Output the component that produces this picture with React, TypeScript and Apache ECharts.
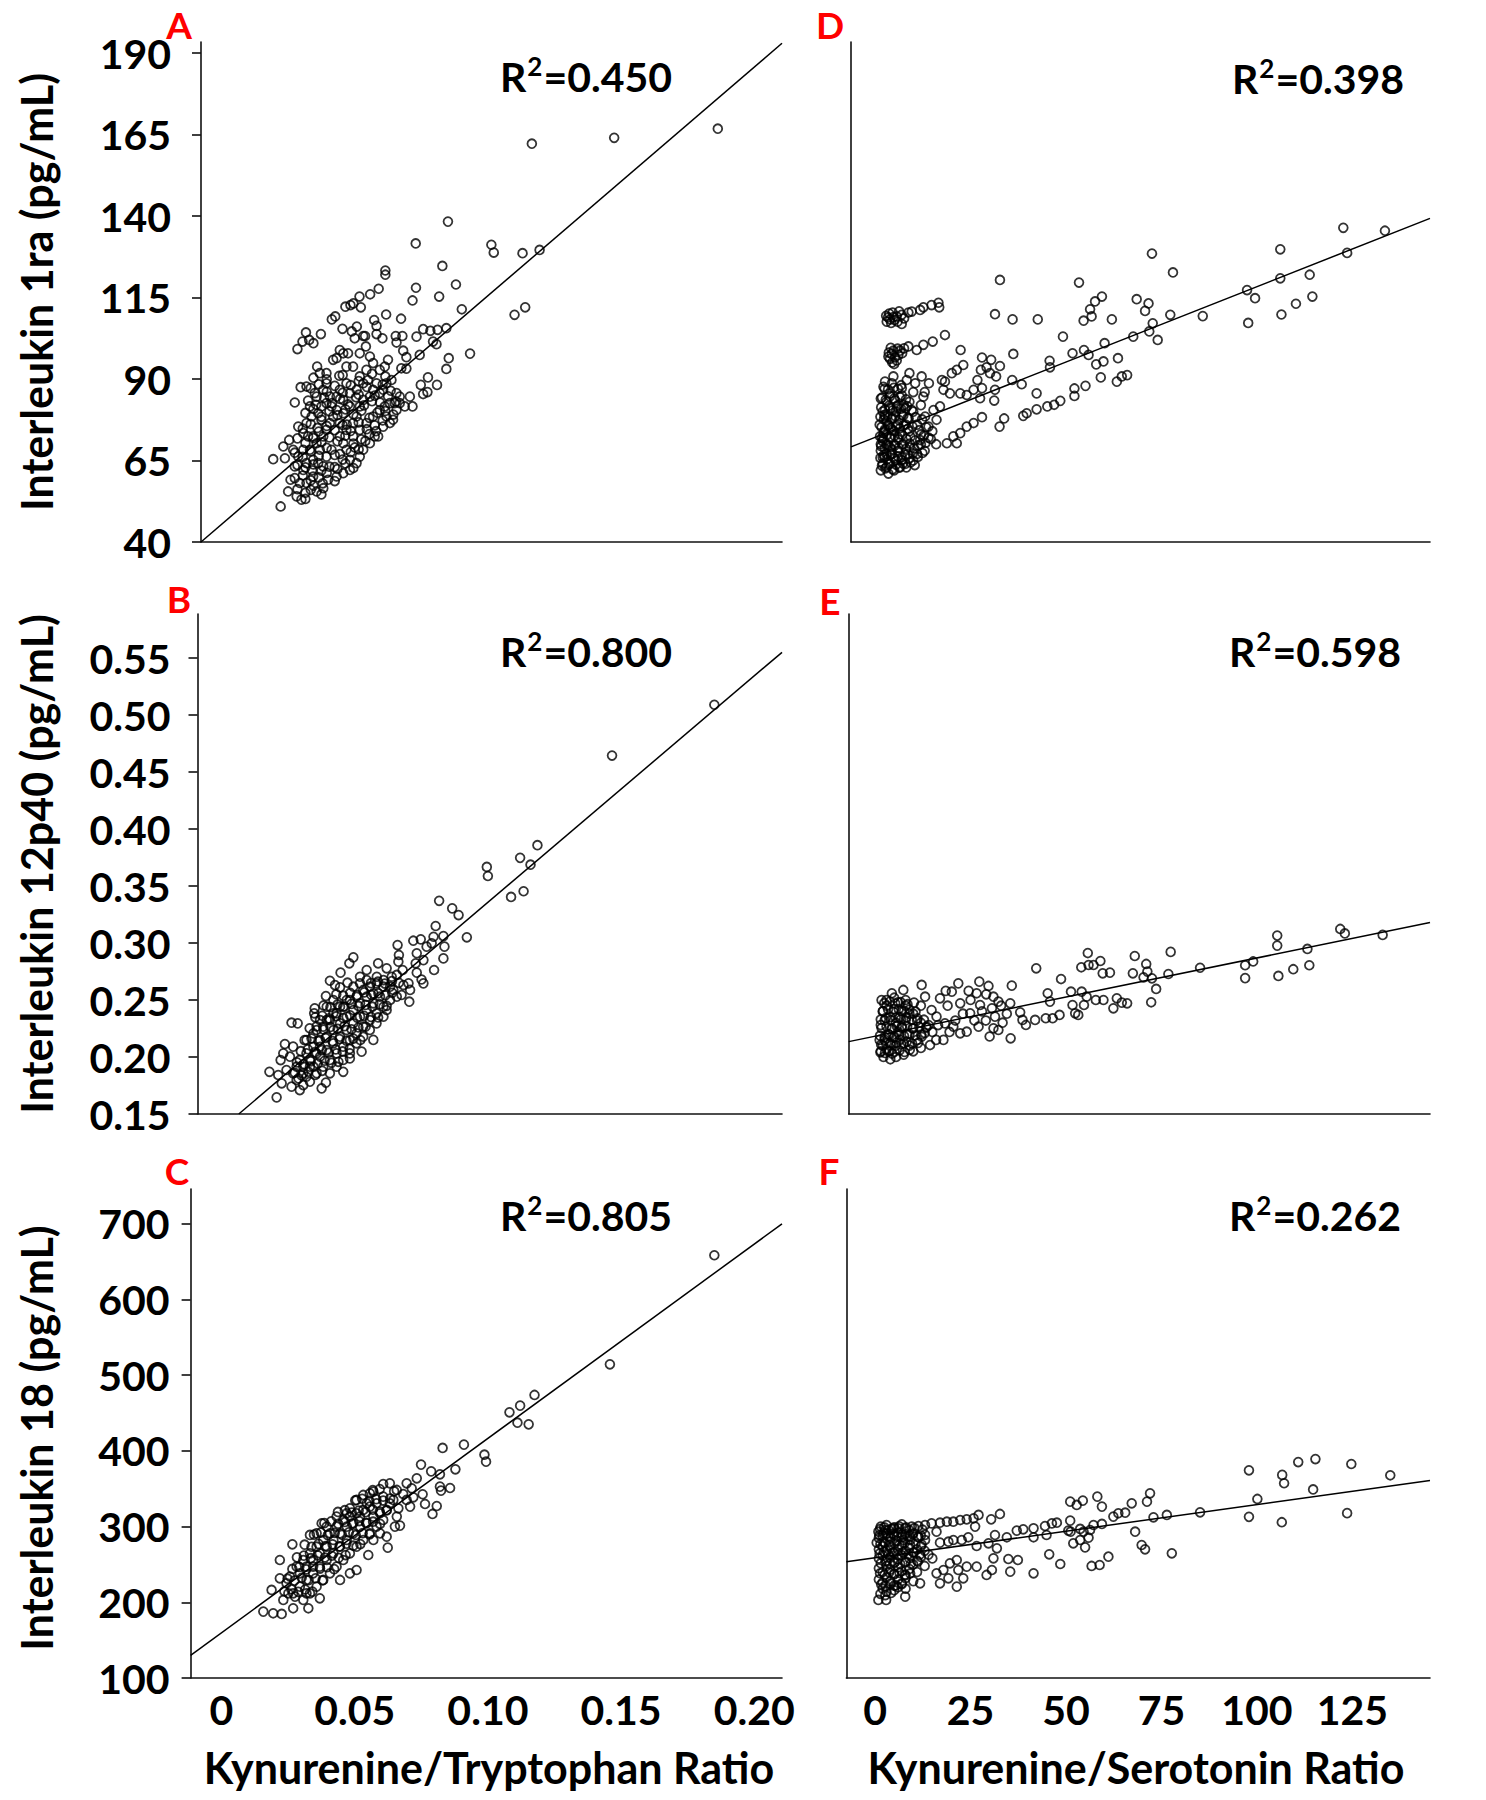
import React, { useEffect, useRef } from 'react';
import * as echarts from 'echarts';

const W = 1486;
const H = 1800;
const FONT = 'Lato, "Open Sans", sans-serif';

// ---------- tick values ----------
const ticksA = [40, 65, 90, 115, 140, 165, 190];
const ticksB = [0.15, 0.2, 0.25, 0.3, 0.35, 0.4, 0.45, 0.5, 0.55];
const ticksC = [100, 200, 300, 400, 500, 600, 700];
const ticksKT = [0, 0.05, 0.1, 0.15, 0.2];
const ticksKS = [0, 25, 50, 75, 100, 125];

// ---------- texts ----------
const r2Labels = ['0.450', '0.800', '0.805', '0.398', '0.598', '0.262'];
const panelLetters = ['A', 'B', 'C', 'D', 'E', 'F'];
const yTitles = ['Interleukin 1ra (pg/mL)', 'Interleukin 12p40 (pg/mL)', 'Interleukin 18 (pg/mL)'];
const xTitles = ['Kynurenine/Tryptophan Ratio', 'Kynurenine/Serotonin Ratio'];

// ---------- regression lines (endpoints) ----------
const fitA = [[-0.0077, 40], [0.2104, 193]];
const fitB = [[0.0065, 0.15], [0.2104, 0.555]];
const fitC = [[-0.0116, 130], [0.2104, 700]];
const fitD = [[-6.3, 69.2], [145.3, 139.3]];
const fitE = [[-6.9, 0.2135], [145.3, 0.318]];
const fitF = [[-7.5, 253.5], [145.3, 361]];

// ---------- scatter data ----------
const ptsA = [
  [0.113, 128.6], [0.1194, 129.6], [0.0829, 124.7], [0.0615, 123.3], [0.0615, 122.0], [0.088, 119.0], [0.073, 118.0],
  [0.059, 117.7], [0.0558, 116.0], [0.0518, 115.3], [0.0717, 114.1], [0.0817, 115.3], [0.0902, 111.4], [0.110, 109.7],
  [0.114, 112.0], [0.0618, 109.8], [0.0674, 108.5], [0.0465, 112.2], [0.0484, 112.7], [0.0495, 113.2], [0.0523, 112.0],
  [0.0414, 108.3], [0.0427, 109.2], [0.0454, 105.4], [0.0508, 106.1], [0.0573, 108.1], [0.0582, 106.3], [0.0317, 104.3],
  [0.0304, 101.5], [0.0285, 99.2], [0.0329, 102.0], [0.0345, 101.0], [0.0373, 103.8], [0.0757, 105.3], [0.0784, 104.8],
  [0.0811, 105.1], [0.0844, 105.6], [0.0732, 103.0], [0.0654, 103.2], [0.0679, 103.2], [0.0657, 101.2], [0.0604, 102.5],
  [0.0582, 103.8], [0.0807, 100.7], [0.0794, 101.5], [0.0744, 97.4], [0.0682, 98.7], [0.0694, 96.7], [0.0675, 93.3],
  [0.0694, 93.2], [0.0853, 96.4], [0.0844, 93.1], [0.0933, 97.8], [0.0775, 90.5], [0.0748, 88.2], [0.0809, 88.2],
  [0.0757, 85.4], [0.0773, 86.0], [0.0707, 84.6], [0.0717, 81.6], [0.0688, 81.6], [0.0657, 85.7], [0.0669, 84.6],
  [0.0625, 95.9], [0.0613, 93.8], [0.0594, 92.8], [0.0539, 103.2], [0.0542, 100.0], [0.0519, 97.9], [0.05, 102.5],
  [0.0489, 104.6], [0.0532, 103.2], [0.0444, 98.9], [0.0432, 96.4], [0.0419, 95.9], [0.0457, 97.9], [0.0475, 97.9],
  [0.0359, 93.8], [0.0369, 91.8], [0.0394, 91.8], [0.0442, 91.0], [0.0469, 93.8], [0.0494, 93.8], [0.0519, 90.8],
  [0.0544, 92.8], [0.0557, 96.9], [0.0569, 94.9], [0.0297, 87.5], [0.0319, 87.7], [0.0275, 82.8], [0.0288, 75.4],
  [0.0254, 71.3], [0.0232, 69.3], [0.0194, 65.4], [0.0238, 65.7], [0.0259, 59.1], [0.0250, 55.5], [0.0222, 50.9],
  [0.03, 53.0], [0.0282, 54.0], [0.0357, 55.5], [0.0382, 56.5], [0.04, 59.1], [0.0344, 72.4], [0.0325, 72.4],
  [0.0332, 81.6], [0.0338, 78.5], [0.035, 85.7], [0.0357, 84.6], [0.0382, 86.7], [0.0394, 88.7], [0.0407, 84.6],
  [0.0413, 81.6], [0.0432, 80.5], [0.0419, 78.5], [0.0444, 76.5], [0.0444, 72.4], [0.0457, 70.3], [0.0469, 68.3],
  [0.0482, 65.2], [0.0494, 76.5], [0.0507, 78.5], [0.0519, 81.6], [0.0532, 83.6], [0.0557, 84.6], [0.0569, 86.7],
  [0.0582, 88.7], [0.0594, 85.7], [0.0607, 86.7], [0.0619, 88.7], [0.0638, 89.7], [0.065, 82.6], [0.0657, 80.5],
  [0.0644, 77.5], [0.0632, 76.5], [0.0607, 75.4], [0.0588, 72.4], [0.0575, 72.4], [0.0557, 70.3], [0.0532, 68.3],
  [0.0519, 66.2], [0.0507, 64.2], [0.0482, 62.1], [0.0457, 61.1], [0.0432, 60.1], [0.0382, 63.2], [0.0363, 64.2],
  [0.0344, 65.2], [0.0319, 64.2], [0.0307, 62.1], [0.0294, 58.1], [0.0319, 58.1], [0.0344, 60.1], [0.0394, 66.2],
  [0.0413, 68.3], [0.0369, 68.3], [0.0357, 70.3], [0.0382, 72.4], [0.0394, 74.4], [0.0407, 76.5], [0.0375, 77.5],
  [0.0363, 79.5], [0.0469, 74.4], [0.0494, 72.4], [0.0519, 74.4], [0.0544, 76.5], [0.0569, 78.5], [0.0594, 80.5],
  [0.0613, 81.6], [0.0632, 82.6], [0.0669, 82.6], [0.0619, 78.5], [0.0457, 83.6], [0.0482, 85.7], [0.0507, 86.7],
  [0.0532, 88.7], [0.055, 89.7], [0.0482, 81.6], [0.0457, 79.5], [0.0432, 84.6], [0.0469, 88.7], [0.0444, 86.7],
  [0.0394, 82.6], [0.0375, 81.6], [0.0319, 76.5], [0.0307, 73.4], [0.0332, 68.3], [0.0288, 66.2], [0.0275, 63.2],
  [0.0269, 68.3], [0.0307, 68.3], [0.0425, 63], [0.0445, 67], [0.05, 69], [0.054, 71], [0.058, 74], [0.047, 76],
  [0.036, 75], [0.034, 62], [0.038, 58], [0.0335, 56],
  [0.0335, 87.2], [0.0365, 88.4], [0.0395, 86.1], [0.0425, 87.9], [0.0455, 85.8], [0.0485, 88.1], [0.0515, 85.2],
  [0.0545, 87.6], [0.0575, 84.9], [0.0605, 88.3], [0.0635, 86.4],
  [0.0325, 83.4], [0.0355, 82.1], [0.0385, 84.3], [0.0415, 82.6], [0.0445, 83.9], [0.0475, 82.2], [0.0505, 84.4],
  [0.0535, 81.9], [0.0565, 83.2], [0.0595, 82.8], [0.0625, 84.7], [0.0655, 83.1],
  [0.0315, 79.6], [0.0345, 80.8], [0.0375, 78.4], [0.0405, 80.1], [0.0435, 78.9], [0.0465, 80.7], [0.0495, 79.2],
  [0.0525, 80.3], [0.0555, 78.1], [0.0585, 79.7], [0.0615, 80.2], [0.0645, 79.1],
  [0.0305, 74.8], [0.0335, 76.2], [0.0365, 73.9], [0.0395, 75.6], [0.0425, 74.3], [0.0455, 75.9], [0.0485, 74.1],
  [0.0515, 76.7], [0.0545, 74.6], [0.0575, 75.8], [0.0605, 77.3],
  [0.0285, 71.8], [0.0315, 70.4], [0.0345, 71.9], [0.0375, 70.6], [0.0405, 72.1], [0.0435, 70.9], [0.0465, 72.6],
  [0.0495, 70.2], [0.0525, 71.5], [0.0555, 73.1],
  [0.0275, 67.4], [0.0305, 66.1], [0.0335, 67.8], [0.0365, 66.4], [0.0395, 68.9], [0.0425, 66.7], [0.0455, 65.3],
  [0.0485, 67.6], [0.0515, 68.4],
  [0.0285, 63.6], [0.0315, 62.9], [0.0345, 63.8], [0.0375, 61.9], [0.0405, 63.1], [0.0435, 62.4], [0.0465, 64.1],
  [0.0495, 62.7],
  [0.0275, 59.6], [0.0305, 60.4], [0.0335, 58.9], [0.0365, 59.8], [0.0395, 61.2], [0.0425, 58.7],
  [0.0285, 56.2], [0.0315, 55.1], [0.0345, 57.3], [0.0375, 54.6], [0.0315, 53.2],
  [0.0345, 90.4], [0.0395, 89.9], [0.0455, 91.2], [0.0515, 89.4], [0.0565, 91.6], [0.0615, 90.8],
  [0.1165, 162.2], [0.1474, 164], [0.1863, 166.8], [0.085, 138.3], [0.0729, 131.6], [0.1013, 131.2], [0.1022, 128.8],
];

const ptsB = [
  [0.0817, 0.337], [0.0866, 0.3304], [0.089, 0.3245], [0.0804, 0.3149], [0.0921, 0.305], [0.0833, 0.3061], [0.0796, 0.3055],
  [0.072, 0.302], [0.0748, 0.3032], [0.077, 0.2968], [0.0789, 0.2997], [0.0837, 0.2968], [0.0833, 0.2865], [0.0798, 0.2763],
  [0.0661, 0.2982], [0.0666, 0.2895], [0.0733, 0.291], [0.0758, 0.285], [0.0729, 0.2822], [0.0664, 0.2836], [0.068, 0.2763],
  [0.0658, 0.272], [0.0733, 0.274], [0.0751, 0.268], [0.0758, 0.2646], [0.0702, 0.2646], [0.0708, 0.2588], [0.0705, 0.2485],
  [0.0495, 0.2874], [0.048, 0.2822], [0.0447, 0.274], [0.0407, 0.2669], [0.0426, 0.2631], [0.0445, 0.2611], [0.0392, 0.2535],
  [0.035, 0.2427], [0.0348, 0.2383], [0.0263, 0.2301], [0.0286, 0.2295], [0.0238, 0.2114], [0.0232, 0.2032], [0.0269, 0.2091],
  [0.0222, 0.1973], [0.018, 0.187], [0.0213, 0.1842], [0.0226, 0.1769], [0.0207, 0.1646], [0.0263, 0.174], [0.0294, 0.171],
  [0.0376, 0.1725], [0.0392, 0.1775], [0.0457, 0.187], [0.0482, 0.1988], [0.0526, 0.2047], [0.057, 0.215], [0.0588, 0.2822],
  [0.0545, 0.2763], [0.052, 0.2704], [0.0583, 0.2704], [0.062, 0.2778], [0.0639, 0.2704], [0.0608, 0.2617], [0.0645, 0.2588],
  [0.0676, 0.2544], [0.0683, 0.2631],
  [0.0282, 0.1798], [0.0307, 0.1857], [0.0332, 0.1915], [0.0294, 0.1974], [0.0319, 0.2032], [0.0345, 0.209], [0.037, 0.2149],
  [0.0319, 0.2149], [0.0357, 0.2237], [0.0382, 0.2266], [0.0407, 0.2324], [0.0432, 0.2383], [0.0457, 0.2441], [0.0482, 0.25],
  [0.0507, 0.2529], [0.0532, 0.2588], [0.0557, 0.2617], [0.0582, 0.2646], [0.0608, 0.2675], [0.0633, 0.2617], [0.0595, 0.2529],
  [0.057, 0.2471], [0.0545, 0.2412], [0.052, 0.2354], [0.0495, 0.2295], [0.047, 0.2237], [0.0445, 0.2178], [0.042, 0.212],
  [0.0395, 0.2061], [0.037, 0.2003], [0.0345, 0.1915], [0.0319, 0.1827], [0.0307, 0.1754], [0.0332, 0.1783], [0.0357, 0.1857],
  [0.0382, 0.1915], [0.0407, 0.1974], [0.0432, 0.2032], [0.0457, 0.209], [0.0482, 0.2149], [0.0507, 0.2207], [0.0532, 0.2266],
  [0.0557, 0.2324], [0.0582, 0.2383], [0.0608, 0.2441], [0.0633, 0.25], [0.0658, 0.2529], [0.0282, 0.1915], [0.0257, 0.2003],
  [0.0269, 0.1857], [0.0244, 0.1886], [0.042, 0.2237], [0.0395, 0.2178], [0.037, 0.209], [0.0445, 0.2295], [0.047, 0.2354],
  [0.0495, 0.2412], [0.052, 0.2471], [0.0545, 0.2529], [0.057, 0.2558], [0.047, 0.25], [0.0445, 0.2441], [0.042, 0.2383],
  [0.0395, 0.2324], [0.037, 0.2324], [0.0345, 0.2207], [0.042, 0.25], [0.0395, 0.2441], [0.0495, 0.2617], [0.052, 0.2646],
  [0.0545, 0.2675], [0.0357, 0.2032], [0.0332, 0.1974], [0.0307, 0.1915], [0.0407, 0.1857], [0.0432, 0.1915], [0.0457, 0.1974],
  [0.0482, 0.2032], [0.0507, 0.212], [0.0532, 0.2178], [0.0557, 0.2237], [0.0582, 0.2295], [0.0608, 0.2354], [0.062, 0.2412],
  [0.0275, 0.1862], [0.0301, 0.1838], [0.0326, 0.1871], [0.0352, 0.1843], [0.0378, 0.1879], [0.0289, 0.1812],
  [0.0283, 0.1953], [0.0309, 0.1938], [0.0335, 0.1962], [0.0361, 0.1944], [0.0387, 0.1967], [0.0413, 0.1949], [0.0439, 0.1958],
  [0.0298, 0.2051], [0.0324, 0.2068], [0.0351, 0.2042], [0.0377, 0.2061], [0.0403, 0.2038], [0.0429, 0.2066], [0.0455, 0.2049],
  [0.0481, 0.2071],
  [0.0312, 0.2148], [0.0338, 0.2163], [0.0364, 0.2141], [0.0391, 0.2167], [0.0417, 0.2139], [0.0443, 0.2158], [0.0469, 0.2143],
  [0.0495, 0.2161], [0.0521, 0.2149],
  [0.0331, 0.2252], [0.0357, 0.2268], [0.0383, 0.2241], [0.0409, 0.2263], [0.0436, 0.2247], [0.0462, 0.2271], [0.0488, 0.2243],
  [0.0514, 0.2259], [0.0541, 0.2266],
  [0.0352, 0.2348], [0.0378, 0.2362], [0.0404, 0.2339], [0.0431, 0.2358], [0.0457, 0.2341], [0.0483, 0.2366], [0.0509, 0.2344],
  [0.0535, 0.2361], [0.0561, 0.2352], [0.0588, 0.2347],
  [0.0383, 0.2452], [0.0409, 0.2438], [0.0436, 0.2461], [0.0462, 0.2443], [0.0488, 0.2466], [0.0514, 0.2448], [0.0541, 0.2457],
  [0.0567, 0.2441], [0.0594, 0.2463], [0.062, 0.2449],
  [0.0431, 0.2551], [0.0457, 0.2538], [0.0483, 0.2562], [0.0509, 0.2543], [0.0536, 0.2567], [0.0562, 0.2546], [0.0589, 0.2559],
  [0.0615, 0.2541], [0.0641, 0.2563],
  [0.0473, 0.2652], [0.0561, 0.2648], [0.0587, 0.2662], [0.0613, 0.2644], [0.064, 0.2666], [0.0666, 0.2651],
  [0.185, 0.509], [0.1466, 0.4644], [0.1186, 0.3858], [0.1121, 0.3747], [0.116, 0.3687], [0.1134, 0.3454], [0.1087, 0.3404],
  [0.0996, 0.3667], [0.1, 0.3588],
];

const ptsC = [
  [0.1175, 473.9], [0.1121, 459.8], [0.1081, 451], [0.1111, 437.3], [0.1153, 435.1], [0.083, 403.9], [0.091, 408.3],
  [0.0987, 395], [0.0993, 385.8], [0.0878, 375.7], [0.0749, 381.9], [0.0787, 373], [0.082, 369.1], [0.082, 352.8],
  [0.0858, 351], [0.0824, 347.5], [0.0808, 327.2], [0.0792, 316.7], [0.0764, 329.9], [0.0755, 342.7], [0.0733, 363.8],
  [0.0695, 357.2], [0.0714, 350.6], [0.0682, 343.1], [0.072, 338.7], [0.0708, 326.4], [0.0658, 348.4], [0.0607, 356.3],
  [0.057, 346.2], [0.0532, 341.8], [0.0607, 339.6], [0.0632, 330.8], [0.0664, 324.2], [0.067, 301.3], [0.0651, 300],
  [0.062, 286.7], [0.0624, 272.2], [0.0551, 262.5], [0.0507, 242.7], [0.0482, 324.2], [0.0545, 330.8], [0.0376, 304.4],
  [0.0332, 289], [0.0266, 276.6], [0.0219, 255.9], [0.0188, 216.3], [0.0219, 231.7], [0.0157, 187.7], [0.0194, 185.5],
  [0.0226, 184.6], [0.0269, 192.1], [0.0326, 192.1], [0.0369, 205.3], [0.0307, 203.1], [0.0276, 207.5], [0.0251, 211.9],
  [0.0257, 233.9], [0.0282, 247.1], [0.0307, 255.9], [0.0332, 264.7], [0.0357, 273.5], [0.0382, 282.3], [0.0407, 291.1],
  [0.0432, 300], [0.0457, 308.8], [0.0482, 313.2], [0.0507, 317.6], [0.0532, 322], [0.0557, 326.4], [0.0582, 330.8],
  [0.0294, 220.7], [0.0319, 229.5], [0.0344, 238.3], [0.0369, 247.1], [0.0395, 256], [0.042, 264.7], [0.0445, 273.5],
  [0.047, 282.3], [0.0495, 291.1], [0.052, 300], [0.0545, 304.4], [0.057, 313.2], [0.0595, 317.6], [0.062, 322],
  [0.0319, 247.1], [0.0344, 255.9], [0.0369, 264.7], [0.0395, 273.5], [0.042, 282.3], [0.0445, 291.1], [0.047, 300],
  [0.0495, 304.4], [0.052, 313.2], [0.0269, 211.9], [0.0244, 225.1], [0.0232, 203.1], [0.0319, 211.9], [0.0357, 220.7],
  [0.0382, 229.5], [0.0407, 238.3], [0.0432, 247.1], [0.0457, 255.9], [0.0482, 264.7], [0.0507, 273.5], [0.0532, 282.3],
  [0.0557, 291.1], [0.0582, 300], [0.0607, 308.8], [0.057, 282.3], [0.0595, 291.1], [0.0294, 238.3], [0.0332, 211.9],
  [0.0482, 238.3], [0.0445, 229.5], [0.0357, 291.1], [0.0395, 300], [0.0432, 313.2], [0.047, 317.6], [0.0507, 335.2],
  [0.0557, 344], [0.0645, 335.2], [0.0658, 313.2], [0.0632, 357.2], [0.0695, 335.2],
  [0.0236, 214.6], [0.0262, 217.3], [0.0288, 213.8], [0.0314, 216.9], [0.0341, 214.1],
  [0.0248, 231.2], [0.0274, 228.6], [0.0301, 232.4], [0.0327, 229.3], [0.0353, 231.8], [0.0379, 228.9],
  [0.0266, 244.1], [0.0292, 246.8], [0.0318, 243.5], [0.0344, 247.2], [0.037, 244.6], [0.0396, 246.3], [0.0423, 243.8],
  [0.0283, 259.4], [0.0309, 261.7], [0.0335, 258.3], [0.0361, 262.1], [0.0388, 259.2], [0.0414, 261.5], [0.044, 258.7],
  [0.0466, 262.4],
  [0.0312, 276.1], [0.0338, 273.4], [0.0364, 277.2], [0.039, 274.3], [0.0417, 276.6], [0.0443, 273.9], [0.0469, 277.5],
  [0.0495, 274.8], [0.0521, 276.9],
  [0.0347, 289.3], [0.0373, 292.1], [0.0399, 288.7], [0.0425, 291.6], [0.0452, 289.2], [0.0478, 292.4], [0.0504, 288.9],
  [0.053, 291.3], [0.0556, 289.8],
  [0.0386, 304.6], [0.0412, 306.9], [0.0438, 303.8], [0.0464, 306.2], [0.049, 304.1], [0.0517, 307.3], [0.0543, 304.9],
  [0.0569, 306.5], [0.0595, 303.7],
  [0.0437, 319.4], [0.0463, 321.7], [0.0489, 318.6], [0.0515, 321.2], [0.0541, 319.1], [0.0568, 322.4], [0.0594, 319.8],
  [0.062, 321.3],
  [0.0502, 334.6], [0.0528, 336.8], [0.0555, 333.9], [0.0581, 336.2], [0.0607, 334.4], [0.0633, 337.1],
  [0.0568, 348.2], [0.0594, 349.6], [0.0648, 346.8],
  [0.185, 658.5], [0.1458, 514.4],
];

const ptsD = [
  [3.05, 107.6], [3.93, 108.3], [4.8, 109], [5.67, 109.2], [6.98, 106.9], [6.98, 109.7], [8.73, 110.4], [9.6, 110.7],
  [11.8, 111.2], [12.65, 112], [14.8, 112.7], [16.6, 113.4], [16.8, 112],
  [3.49, 96.9], [4.36, 97.7], [4.8, 98.7], [5.67, 95.7], [6.55, 98.7], [7.59, 99.4], [8.73, 100], [10.9, 98.9],
  [12.65, 100.5], [15.1, 101.5], [18.3, 103.5],
  [3.4, 108.9], [4.2, 107.2], [5.1, 108.1], [5.9, 107.6], [3.7, 110.1], [4.6, 110.4], [6.3, 110.8], [7.6, 108.6], [2.9, 109.4],
  [3.9, 96.2], [4.5, 95.1], [5.2, 96.6], [6.1, 97.4], [3.6, 98.1], [5.9, 99.3], [7.1, 97.9], [4.1, 99.6], [5, 94.6],
  [32.7, 120.4], [53.4, 119.6], [31.4, 109.9], [36, 108.3], [42.6, 108.3], [59.4, 115.3], [57.6, 113.8], [56.3, 111.4],
  [56.7, 109.2], [54.6, 107.9], [62, 108.3], [68.5, 114.5], [71.6, 113.2], [70.7, 110.9], [72.7, 107.1], [71.8, 104.6],
  [74, 102], [77.3, 109.7], [67.6, 103], [60.1, 101], [49.2, 103], [22.4, 98.9], [36.2, 97.7], [45.7, 95.6], [45.8, 93.6],
  [51.7, 97.9], [54.7, 98.9], [55.9, 97.4], [63.6, 96.4], [59.8, 95.4], [57.9, 94.5], [59.1, 90.5], [63.3, 89.2],
  [64.6, 90.8], [66, 91.2], [55.1, 87.9], [52.2, 87.1], [52.2, 84.8], [48.5, 83.3], [46.9, 82.1], [45.1, 81.6],
  [42.3, 80.7], [42.3, 85.6], [38.4, 88.4], [35.9, 89.7], [39.7, 79.5], [38.8, 78.7], [33.8, 77.9], [32.6, 75.4],
  [31.2, 83.4], [31.4, 86.7], [31.7, 90.8], [32.7, 94], [30.4, 95.9], [28, 96.6], [29.2, 93.6], [27.7, 92.8], [26.8, 89.7],
  [25.8, 86.7], [28, 87.2], [30.1, 91.8], [23.1, 94.3], [21.4, 92.8], [20.1, 91.8], [18.3, 89.2], [17.5, 89.7],
  [17.9, 86.7], [19.6, 85.6], [22.3, 85.6], [24, 85.1], [27.5, 84.1], [28, 78.3], [25.8, 76.5], [24, 75.4], [22.3, 73.4],
  [20.5, 72.4], [18.8, 70.3], [21.4, 70.3], [17, 81.6], [16.1, 77.5], [15.3, 80.5], [14, 75.4], [12.65, 84.6],
  [13.1, 78.5], [11.8, 71.3], [14.1, 88.7], [12.2, 90.8], [10.5, 88.7], [9, 91.8], [7, 87.2], [8.3, 89.7], [4.8, 90.8],
  [2.6, 89.2], [4.4, 88.7], [3.9, 85.6], [2.6, 78.5], [2.2, 73.4],
  [1.5, 62], [2, 64], [2.5, 66], [3, 63], [3.5, 61], [4, 64], [4.5, 67], [5, 62], [5.5, 65], [6, 68], [6.5, 63], [7, 66],
  [7.5, 70], [8, 64], [8.5, 67], [9, 69], [10, 65], [11, 67], [12, 70], [13, 68], [1.5, 68], [2, 71], [2.5, 74], [3, 70],
  [3.5, 76], [4, 72], [4.5, 78], [5, 74], [5.5, 80], [6, 76], [6.5, 73], [7, 79], [7.5, 82], [8, 76], [8.5, 78], [9, 74],
  [10, 80], [11, 76], [12, 73], [14, 72], [15, 74], [16, 70], [2, 80], [3, 83], [4, 81], [5, 84], [6, 82], [7, 85],
  [8, 81], [9, 83], [10, 86], [1.2, 76], [1.5, 84], [2.5, 87], [6, 87], [12, 82], [13, 86], [2, 66], [3, 67], [4, 69],
  [1.8, 72], [3, 77], [5, 70], [6, 72], [4, 75], [2.5, 79], [1.5, 70],
  [1.8, 63.4], [2.7, 62.6], [3.6, 63.9], [4.6, 62.3], [5.5, 63.7], [6.4, 62.8], [7.3, 64.1], [8.2, 62.9], [9.3, 64.4], [10.4, 63.6],
  [1.4, 65.8], [2.3, 66.7], [3.2, 65.4], [4.1, 66.9], [5.1, 65.6], [6.0, 66.2], [6.9, 65.1], [7.9, 66.8], [8.9, 65.7], [9.9, 67.2],
  [11.2, 66.1], [12.4, 67.3],
  [1.6, 69.4], [2.5, 68.7], [3.4, 69.8], [4.3, 68.4], [5.2, 69.6], [6.2, 68.9], [7.1, 69.9], [8.1, 68.6], [9.1, 70.2], [10.2, 68.8],
  [11.4, 69.7], [13.2, 70.4],
  [1.3, 72.4], [2.2, 71.6], [3.1, 72.8], [4.1, 71.9], [5.1, 72.6], [6.1, 71.4], [7.1, 72.9], [8.2, 71.7], [9.3, 72.3], [10.5, 71.2],
  [12.8, 72.7], [14.6, 71.6],
  [1.7, 75.3], [2.6, 74.6], [3.5, 75.8], [4.5, 74.4], [5.5, 75.6], [6.5, 74.9], [7.5, 75.9], [8.6, 74.7], [9.8, 75.4], [11.6, 74.3],
  [13.4, 75.2],
  [1.4, 78.4], [2.3, 77.6], [3.3, 78.9], [4.3, 77.7], [5.3, 78.6], [6.3, 77.4], [7.4, 78.8], [8.8, 77.9], [10.6, 78.3], [12.3, 77.6],
  [1.6, 81.3], [2.6, 80.6], [3.6, 81.8], [4.6, 80.4], [5.7, 81.6], [6.8, 80.9], [8.4, 81.7], [9.6, 80.5],
  [1.8, 84.3], [2.8, 83.6], [3.9, 84.7], [5.2, 83.4], [6.5, 84.5], [8.1, 83.8],
  [2.2, 87.6], [3.4, 86.8], [4.9, 87.3], [6.8, 88.1],
  [72.5, 128.5], [78, 122.7], [85.8, 109.3], [97.4, 117.3], [99.5, 114.8], [97.7, 107.2], [106.1, 129.8], [106.1, 120.9],
  [106.4, 109.8], [110.2, 113.1], [113.8, 122], [114.5, 115.3], [122.6, 136.4], [123.6, 128.7], [133.5, 135.5],
];

const ptsE = [
  [42.2, 0.2778], [35.8, 0.2626], [48.7, 0.2684], [54, 0.2787], [55.9, 0.2807], [57.2, 0.2807], [59, 0.2842], [59.6, 0.2734],
  [61.5, 0.274], [67.5, 0.2734], [71, 0.2816], [71.3, 0.2749], [70.3, 0.2699], [72.5, 0.269], [76.8, 0.2728], [73.6, 0.2597],
  [72.3, 0.248], [51.3, 0.2573], [54.1, 0.2573], [55.4, 0.2529], [57.8, 0.25], [59.8, 0.25], [63.3, 0.2515], [64.6, 0.2477],
  [66, 0.2471], [62.4, 0.2427], [51.7, 0.2456], [52.4, 0.2383], [53.2, 0.2369], [54.7, 0.2456], [45.2, 0.2559], [45.8, 0.2486],
  [44.7, 0.234], [46.5, 0.234], [48.3, 0.2369], [41.9, 0.2325], [39.5, 0.2281], [38.6, 0.2325], [38, 0.2392], [35.4, 0.2471],
  [35.5, 0.2164], [32.3, 0.2237], [31, 0.2252], [33.4, 0.2301], [31.4, 0.2354], [30.6, 0.2427], [32.3, 0.2486], [31, 0.2529],
  [29.7, 0.2623], [27.3, 0.2661], [26.6, 0.2559], [29.1, 0.255], [27.5, 0.2456], [27.1, 0.2266], [24.9, 0.2383], [24, 0.2222],
  [22.3, 0.2471], [21.8, 0.2646], [20.1, 0.2573], [17, 0.2515], [16.1, 0.2354], [18.3, 0.2295], [20.5, 0.2266], [17.9, 0.215],
  [22.3, 0.2208], [14.4, 0.2105], [12.2, 0.2632], [13.1, 0.2529], [7.4, 0.2588], [4.4, 0.2559], [1.7, 0.25], [14.8, 0.2412],
  [13.5, 0.2266], [12.2, 0.2178],
  [19, 0.245], [23, 0.238], [25, 0.25], [26, 0.232], [28, 0.24], [21, 0.232], [19.5, 0.222], [24.5, 0.258], [29, 0.232],
  [33, 0.245], [34.5, 0.238], [30, 0.218], [16.5, 0.228], [18.5, 0.258],
  [1.5, 0.205], [2, 0.21], [2.5, 0.215], [3, 0.207], [3.5, 0.22], [4, 0.212], [4.5, 0.225], [5, 0.217], [5.5, 0.23], [6, 0.222],
  [6.5, 0.235], [7, 0.227], [7.5, 0.212], [8, 0.232], [8.5, 0.22], [9, 0.238], [10, 0.225], [11, 0.215], [12, 0.23], [13, 0.221],
  [1.5, 0.228], [2, 0.24], [2.5, 0.232], [3, 0.245], [3.5, 0.205], [4, 0.235], [4.5, 0.203], [5, 0.242], [5.5, 0.21], [6, 0.248],
  [6.5, 0.215], [7, 0.24], [8, 0.245], [9, 0.21], [10, 0.238], [11, 0.232], [12, 0.245], [14, 0.228], [15, 0.222], [16, 0.215],
  [1.2, 0.215], [2.2, 0.2], [4, 0.198], [5.5, 0.2], [7.5, 0.202], [10, 0.205], [12, 0.208], [3, 0.25], [5, 0.252], [8, 0.25],
  [1.4, 0.2041], [2.6, 0.2036], [3.8, 0.2052], [5.1, 0.2047], [6.4, 0.2058], [7.7, 0.2044], [9.1, 0.2063],
  [1.6, 0.2108], [2.9, 0.2121], [4.2, 0.2103], [5.6, 0.2126], [6.9, 0.2112], [8.3, 0.2135], [9.7, 0.2118], [11.3, 0.2124],
  [1.3, 0.2187], [2.5, 0.2176], [3.7, 0.2194], [5, 0.2181], [6.3, 0.2198], [7.6, 0.2183], [9, 0.2202], [10.5, 0.2189], [12.1, 0.2196],
  [1.7, 0.2254], [3, 0.2267], [4.3, 0.2249], [5.7, 0.2272], [7, 0.2256], [8.4, 0.2268], [9.8, 0.2251], [11.6, 0.2264], [13.4, 0.2258],
  [1.5, 0.2328], [2.8, 0.2341], [4.1, 0.2322], [5.4, 0.2346], [6.8, 0.2331], [8.2, 0.2349], [9.6, 0.2326], [11.1, 0.2338],
  [12.8, 0.2327],
  [2.1, 0.2403], [3.4, 0.2418], [4.8, 0.2397], [6.2, 0.2421], [7.6, 0.2404], [9, 0.2416], [10.6, 0.2398],
  [2.4, 0.2472], [3.9, 0.2486], [5.3, 0.2468], [6.7, 0.2481], [8.5, 0.2463], [10.2, 0.2477],
  [55.7, 0.2912], [68, 0.2886],
  [105.3, 0.3065], [105.3, 0.2977], [96.9, 0.2805], [96.9, 0.2692], [99, 0.2838], [105.6, 0.2711], [109.5, 0.277],
  [113.2, 0.2948], [113.7, 0.2805], [121.8, 0.3123], [123, 0.3084], [132.9, 0.3071], [85.1, 0.2783], [77.4, 0.2922],
];

const ptsF = [
  [0.87, 293.3], [2.62, 295.5], [4.36, 296.9], [6.1, 297.7], [7.85, 297.7], [9.6, 300], [11.35, 300.8], [13.1, 302.1],
  [14.8, 304.3], [17, 305.2], [18.8, 306.5], [20.5, 306.5], [22.3, 308.7], [24, 309.6], [25.8, 311], [27.1, 315.4],
  [16.1, 293.3], [26.2, 300], [32.7, 316.7], [30.4, 309.6],
  [0.43, 278.8], [2.18, 280.1], [3.93, 280.1], [5.67, 281.4], [7.42, 282.3], [9.17, 282.3], [11.35, 285.9], [13.1, 282.3],
  [17, 278.8], [19.2, 280.1], [20.5, 282.3], [22.7, 282.3], [24.4, 285.9], [26.6, 274.4], [29.7, 277.9], [31.4, 288.9],
  [31.9, 271.3], [34.5, 285.9], [37.1, 294.7], [38.8, 296.4], [41.5, 297.7], [44.5, 300.8], [46.3, 304.3], [47.6, 305.2],
  [41.5, 285.9], [44.9, 288.9], [51.1, 307.9], [50.6, 294.7], [53.7, 296.9], [54.6, 293.3], [56.3, 295.5], [57.2, 302.1],
  [59.4, 303.5], [62.4, 313.2], [63.7, 317.6], [65.5, 318.4], [67.2, 330.8], [51.1, 333], [52.8, 328.6], [54.4, 334.3],
  [58.2, 339.6], [59.4, 326.4], [71.2, 333], [72, 344], [72.9, 312.3], [76.4, 315.4], [85.1, 318.9], [68.1, 293.3],
  [69.8, 275.7], [70.7, 270], [77.7, 264.7], [61.1, 260.3], [58.8, 249.3], [56.7, 248], [48.5, 250.6], [45.6, 263.4],
  [41.5, 238.3], [37.4, 255.9], [34.9, 257.2], [35.4, 240.5], [53.7, 282.3], [55, 272.6], [55.9, 285.4], [51.9, 277.9],
  [51.2, 293.3], [31, 258.1], [30.6, 242.7], [29.2, 236.1], [26.6, 247.1], [24, 247.1], [21.4, 255.9], [21.8, 242.7],
  [19.6, 251.5], [17.9, 242.7], [16.1, 238.3], [17, 225.1], [19.2, 231.7], [21.4, 220.7], [23.1, 231.7], [11.8, 225.1],
  [7.9, 207.5], [0.87, 203.1], [2.9, 203.1],
  [1, 285], [2, 288], [3, 291], [4, 285], [5, 289], [6, 292], [7, 286], [8, 290], [9, 287], [10, 291], [12, 288], [1, 270],
  [2, 274], [3, 268], [4, 272], [5, 265], [6, 270], [7, 275], [8, 268], [9, 272], [10, 266], [11, 270], [12, 274], [13, 268],
  [1, 258], [2, 262], [3, 255], [4, 259], [5, 252], [6, 257], [7, 262], [8, 254], [9, 258], [10, 250], [11, 255], [12, 260],
  [14, 263], [15, 258], [1, 245], [2, 240], [3, 248], [4, 243], [5, 238], [6, 246], [7, 241], [8, 236], [9, 244], [11, 240],
  [13, 248], [1, 230], [2, 226], [3, 233], [4, 228], [5, 222], [6, 230], [7, 225], [8, 232], [10, 228], [2, 218], [3, 214],
  [5, 216], [6, 220], [8, 218], [1.5, 300], [3, 302], [5, 299], [7, 303], [9, 295],
  [1.3, 296.8], [2.4, 298.9], [3.6, 295.4], [4.8, 297.6], [6.3, 300.4], [8.1, 299.1], [10.3, 297.9], [12.4, 296.2],
  [1.1, 288.6], [2.2, 291.4], [3.4, 287.3], [4.6, 290.8], [5.8, 286.9], [7.1, 289.7], [8.5, 287.2], [9.8, 289.9], [11.3, 286.4],
  [13.1, 289.1],
  [1.4, 276.9], [2.6, 278.3], [3.8, 275.6], [5.1, 277.9], [6.4, 276.1], [7.8, 278.6], [9.2, 275.3], [10.6, 277.7], [12.2, 276.4],
  [1.2, 264.3], [2.3, 266.8], [3.5, 263.1], [4.7, 265.9], [6, 262.7], [7.3, 266.2], [8.7, 263.4], [10.1, 265.8], [11.7, 262.9],
  [1.5, 251.7], [2.7, 253.9], [3.9, 250.8], [5.2, 253.3], [6.6, 250.4], [7.9, 252.7], [9.4, 250.9], [11.2, 253.6],
  [1.3, 238.4], [2.5, 236.2], [3.7, 239.6], [5, 236.8], [6.4, 238.9], [7.8, 236.5], [9.2, 238.1],
  [1.6, 223.8], [2.8, 221.6], [4.1, 224.7], [5.5, 222.3], [7, 224.1],
  [1.4, 211.2], [2.7, 209.6], [4.2, 212.4],
  [97.9, 374.4], [106.6, 368.3], [107.1, 357.3], [110.8, 385.3], [115.3, 389.2], [124.7, 382.7], [134.9, 367.8],
  [114.7, 349.1], [100.1, 336.5], [97.9, 312.9], [106.5, 305.8], [123.6, 317.8],
];

// ---------- layout (pixels) ----------
const panels = [
  { grid: { left: 201, top: 42, width: 581, height: 500 }, x: [-0.0077, 0.2104], y: [40, 193.4], pts: ptsA, fit: fitA,
    yTicks: ticksA, yFmt: (v: number) => String(v), yMargin: 30, xTicks: null, r2: [586, 75], letter: [179, 24] },
  { grid: { left: 197.5, top: 614, width: 584.5, height: 500 }, x: [-0.009, 0.2104], y: [0.15, 0.5886], pts: ptsB, fit: fitB,
    yTicks: ticksB, yFmt: (v: number) => v.toFixed(2), yMargin: 27, xTicks: null, r2: [586, 650], letter: [179, 598] },
  { grid: { left: 190.6, top: 1189, width: 591.4, height: 489 }, x: [-0.0116, 0.2104], y: [100, 746], pts: ptsC, fit: fitC,
    yTicks: ticksC, yFmt: (v: number) => String(v), yMargin: 21, xTicks: ticksKT,
    xFmt: (v: number) => (v === 0 ? '0' : v.toFixed(2)), r2: [586, 1214], letter: [177, 1170] },
  { grid: { left: 851, top: 42, width: 579, height: 500 }, x: [-6.3, 145.3], y: [40, 193.4], pts: ptsD, fit: fitD,
    yTicks: null, xTicks: null, r2: [1318, 77], letter: [830, 24] },
  { grid: { left: 848.7, top: 614, width: 581.3, height: 500 }, x: [-6.9, 145.3], y: [0.15, 0.5886], pts: ptsE, fit: fitE,
    yTicks: null, xTicks: null, r2: [1315, 650], letter: [830, 600] },
  { grid: { left: 846.4, top: 1189, width: 583.6, height: 489 }, x: [-7.5, 145.3], y: [100, 746], pts: ptsF, fit: fitF,
    yTicks: null, xTicks: ticksKS, xFmt: (v: number) => String(v), r2: [1315, 1214], letter: [829, 1170] },
];

const axisLineStyle = { color: '#111', width: 1.6 };

function buildOption() {
  const grid: any[] = [];
  const xAxis: any[] = [];
  const yAxis: any[] = [];
  const series: any[] = [];
  const graphic: any[] = [];

  panels.forEach((p: any, i: number) => {
    grid.push({ ...p.grid, containLabel: false });
    xAxis.push({
      type: 'value', gridIndex: i, min: p.x[0], max: p.x[1],
      axisLine: { show: true, onZero: false, lineStyle: axisLineStyle },
      splitLine: { show: false },
      axisTick: { show: false },
      axisLabel: p.xTicks
        ? { show: true, customValues: p.xTicks, formatter: p.xFmt, fontFamily: FONT, fontWeight: 'bold',
            fontSize: 41, color: '#000', margin: 11 }
        : { show: false },
    });
    yAxis.push({
      type: 'value', gridIndex: i, min: p.y[0], max: p.y[1],
      axisLine: { show: true, onZero: false, lineStyle: axisLineStyle },
      splitLine: { show: false },
      axisTick: p.yTicks
        ? { show: true, customValues: p.yTicks, length: 9, inside: false, lineStyle: axisLineStyle }
        : { show: false },
      axisLabel: p.yTicks
        ? { show: true, customValues: p.yTicks, formatter: p.yFmt, fontFamily: FONT, fontWeight: 'bold',
            fontSize: 41, color: '#000', margin: p.yMargin }
        : { show: false },
    });
    series.push({
      type: 'scatter', xAxisIndex: i, yAxisIndex: i, data: p.pts, symbol: 'circle', symbolSize: 8.8,
      itemStyle: { color: 'rgba(255,255,255,0)', borderColor: '#000', borderWidth: 1.8 }, silent: true, z: 2,
    });
    series.push({
      type: 'line', xAxisIndex: i, yAxisIndex: i, data: p.fit, showSymbol: false, symbol: 'none',
      lineStyle: { color: '#000', width: 1.5 }, silent: true, z: 3,
    });
    graphic.push({
      type: 'text', x: p.r2[0], y: p.r2[1], z: 10,
      style: {
        text: `{a|R}{s|2}{a|=${r2Labels[i]}}`,
        align: 'center', verticalAlign: 'middle',
        rich: {
          a: { fontFamily: FONT, fontWeight: 'bold', fontSize: 41, fill: '#000', verticalAlign: 'bottom' },
          s: { fontFamily: FONT, fontWeight: 'bold', fontSize: 26, fill: '#000', verticalAlign: 'bottom', padding: [0, 1, 18, 1] },
        },
      },
    });
    graphic.push({
      type: 'text', x: p.letter[0], y: p.letter[1], z: 10,
      style: { text: panelLetters[i], fontFamily: FONT, fontWeight: 'bold', fontSize: 37, fill: '#ff0000',
        align: 'center', verticalAlign: 'middle' },
    });
  });

  const yTitlePos = [[36, 292], [36, 864], [36, 1438]];
  yTitles.forEach((t, i) => {
    graphic.push({
      type: 'text', x: yTitlePos[i][0], y: yTitlePos[i][1], rotation: Math.PI / 2, z: 10,
      style: { text: t, fontFamily: FONT, fontWeight: 'bold', fontSize: 43, fill: '#000', align: 'center', verticalAlign: 'middle' },
    });
  });
  const xTitlePos = [[489, 1767], [1136, 1767]];
  xTitles.forEach((t, i) => {
    graphic.push({
      type: 'text', x: xTitlePos[i][0], y: xTitlePos[i][1], z: 10,
      style: { text: t, fontFamily: FONT, fontWeight: 'bold', fontSize: 43, fill: '#000', align: 'center', verticalAlign: 'middle' },
    });
  });

  return { animation: false, backgroundColor: '#fff', grid, xAxis, yAxis, series, graphic };
}

export default function App() {
  const ref = useRef<HTMLDivElement>(null);
  useEffect(() => {
    if (!ref.current) return;
    const chart = echarts.init(ref.current, null, { renderer: 'svg', width: W, height: H });
    chart.setOption(buildOption() as any);
    return () => chart.dispose();
  }, []);
  return <div ref={ref} style={{ position: 'absolute', left: 0, top: 0, width: W, height: H, background: '#fff' }} />;
}
